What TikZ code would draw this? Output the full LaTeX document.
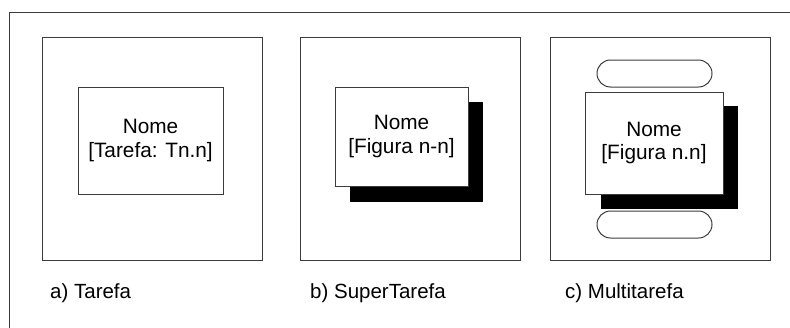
\documentclass[tikz,border=0pt]{standalone}
\usepackage{fontspec}
\setmainfont{Liberation Sans}
\usetikzlibrary{positioning,calc,shapes.misc}
\definecolor{cLine}{HTML}{3C3C3C}
\tikzset{
  panel/.style={draw=cLine,line width=1pt,minimum width=220pt,minimum height=223pt,inner sep=0pt},
  tbox/.style={draw=cLine,fill=white,line width=1pt,inner sep=0pt,align=center,font=\fontsize{20.8}{23.5}\selectfont},
  blk/.style={fill=black,inner sep=0pt},
  pill/.style={rounded rectangle,draw=cLine,line width=1pt,minimum width=115pt,minimum height=27pt,inner sep=0pt},
  capt/.style={anchor=base west,inner sep=0pt,font=\fontsize{20.5}{24}\selectfont}}

\begin{document}
\begin{tikzpicture}[x=1pt,y=-1pt]
\useasboundingbox (0,0) rectangle (790,327);
\clip (0,0) rectangle (790,327);
\draw[cLine,line width=1pt] (9,12) rectangle (800,340);
% a) tarefa
\node[panel] (pa) at (152,148.5) {};
\node[tbox,minimum width=145pt,minimum height=107pt] (ta) at (150.5,140.5) {Nome\\{[Tarefa: Tn.n]}};
\node[capt] (la) at (50,298) {a) Tarefa};
% b) supertarefa
\node[panel] (pb) at (410.5,148.5) {};
\node[blk,minimum width=133pt,minimum height=100pt] (sb) at (416.5,152) {};
\node[tbox,minimum width=133pt,minimum height=99pt] (tb) at (401.5,136.5) {Nome\\{[Figura n-n]}};
\node[capt] (lb) at (310,298) {b) SuperTarefa};
% c) multitarefa
\node[panel] (pc) at (660,148.5) {};
\node[pill] (uc) at (654.5,73.5) {};
\node[pill] (dc) at (654.5,224.5) {};
\node[blk,minimum width=137pt,minimum height=103pt] (sc) at (669.5,157.5) {};
\node[tbox,minimum width=138pt,minimum height=102pt] (tc) at (654,143) {Nome\\{[Figura n.n]}};
\node[capt] (lc) at (565,298) {c) Multitarefa};
\end{tikzpicture}
\end{document}
